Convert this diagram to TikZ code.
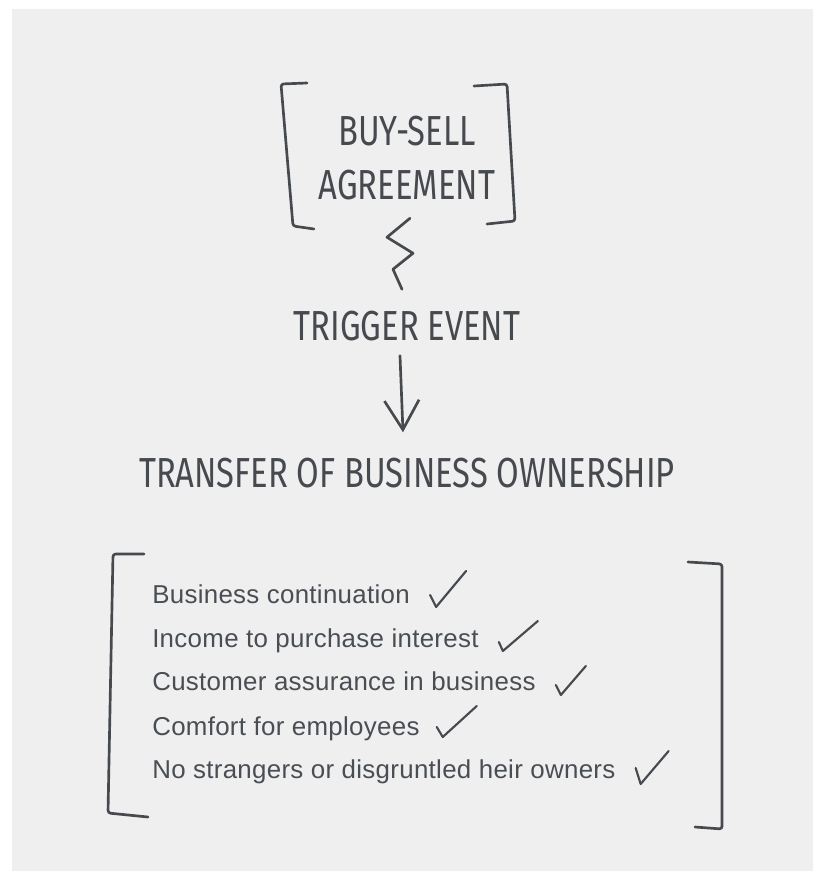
\documentclass[tikz,border=0pt]{standalone}
\usepackage{fontspec}
\newfontfamily\handfont[FakeStretch=0.78]{Fira Sans}
\newfontfamily\listfont[LetterSpace=1.2]{Liberation Sans}
\usetikzlibrary{arrows.meta,calc}
\definecolor{paperGray}{HTML}{EFEFEF}
\definecolor{inkGray}{HTML}{464A4F}
\definecolor{typeGray}{HTML}{494E54}

\begin{document}
\begin{tikzpicture}
[x=0.75pt,y=-0.75pt,%
  handLine/.style={draw=inkGray,line width=2pt,line cap=round,line join=round},%
  bracketLine/.style={handLine,rounded corners=2pt},%
  tickLine/.style={handLine,line width=1.6pt},%
  handText/.style={inner sep=0pt,text=inkGray,font=\handfont\fontsize{31.5}{40.5}\selectfont},%
  listText/.style={inner sep=0pt,anchor=base west,text=typeGray,font=\listfont\fontsize{19.4}{24}\selectfont}]
\useasboundingbox (0,0) rectangle (817,871);
\fill[paperGray] (12,9) rectangle (813,871);
%% hand lettered headings
\node[handText,align=center] (bsa) at (407,158) {BUY-SELL\\AGREEMENT};
\node[handText,anchor=base] (trig) at (407,340) {TRIGGER EVENT};
\node[handText,anchor=base] (xfer) at (407,487) {TRANSFER OF BUSINESS OWNERSHIP};
%% brackets round the agreement
\draw[bracketLine] (307,83) -- (281,84) -- (293,226) -- (314,229);
\draw[bracketLine] (474,86) -- (507,84) -- (515,221) -- (487,224);
%% zigzag down to the trigger, arrow down to the transfer
\coordinate (zzTop) at ($(bsa.south)+(3,18)$);
\draw[handLine] (zzTop) -- ++(-23,19) -- ++(26,16) -- ++(-20,16)
-- ($(trig.north)+(-5,-21)$);
\draw[handLine,-{Straight Barb[length=22pt,width=26pt]}]
($(trig.south)+(-7,15)$) -- ($(xfer.north)+(-4,-25)$);
%% the list of benefits
\foreach \name/\ypos/\words in {contin/603/Business continuation,
  income/647/Income to purchase interest,
  assure/690/Customer assurance in business,
  comfort/735/Comfort for employees,
  heirs/778/No strangers or disgruntled heir owners}
{
  \node[listText] (\name) at (152,\ypos) {\words};
}
%% ticks after each line
\foreach \name/\sx/\sy/\bx/\by/\ex/\ey in {contin/20/-8/6/12/30/-36,
  income/20/-5/4/9/35/-30, assure/20/-5/5/10/25/-29,
  comfort/17/-8/6/10/34/-31, heirs/20/-10/5/16/28/-33}
{
  \draw[tickLine] ($(\name.base east)+(\sx,\sy)$) -- ++(\bx,\by) -- ++(\ex,\ey);
}
%% brackets round the list
\draw[bracketLine] (144,554) -- (113,554) -- (108,813) -- (148,817);
\draw[bracketLine] (688,562) -- (722,564) -- (722,829) -- (695,827);
\end{tikzpicture}
\end{document}
